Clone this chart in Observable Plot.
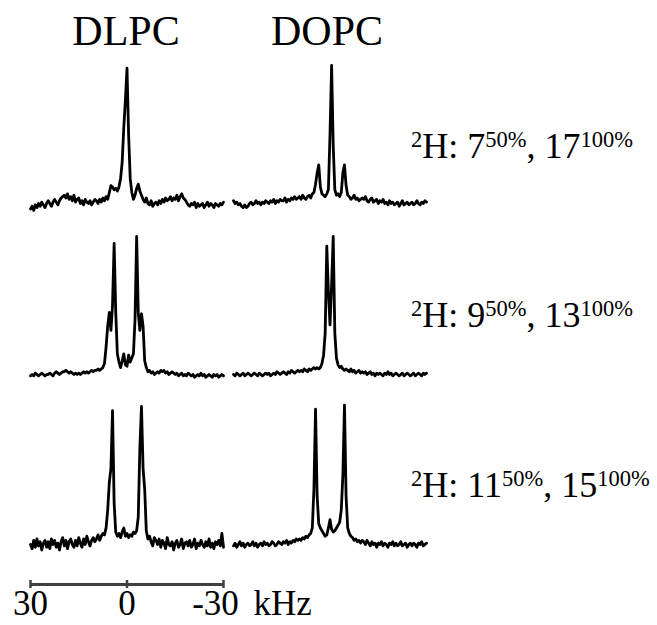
<!DOCTYPE html>
<html><head><meta charset="utf-8">
<script src="https://cdn.jsdelivr.net/npm/d3@7"></script>
<script src="https://cdn.jsdelivr.net/npm/@observablehq/plot@0.6"></script>
<style>
html,body{margin:0;padding:0;background:#fff;}
#chart{position:relative;width:657px;height:625px;overflow:hidden;font-family:"Liberation Serif","Times New Roman",serif;}
#chart svg{position:absolute;overflow:visible;}
</style></head><body><div id="chart"></div>
<script>
// ---- data ----
const lipids = ["DLPC", "DOPC"];
const sites50 = ["7", "9", "11"];
const sites100 = ["17", "13", "15"];
const enrichment = ["50%", "100%"];
const nucleus = "2";
const scaleTicks = [30, 0, -30];
const scaleUnit = "kHz";
// spectra sampled from 30 kHz to -30 kHz every 0.5 kHz, intensity in % of the row's tallest peak
const freqStart = 30, freqStep = 0.5;
const dlpcRow1 = [
-4,-2,-5,-1,-3,0,-2,1,-1,-3,
0,2,0,-2,1,3,1,-1,2,4,
5,6,4,7,3,5,2,6,1,3,
4,0,2,-1,3,1,0,2,-1,1,
3,2,0,3,1,4,2,5,3,8,
13,12,10,11,9,12,18,30,55,75,
98,50,18,8,3,6,11,14,9,6,
3,1,4,0,-1,2,-2,0,1,-1,
2,0,3,1,4,2,3,5,2,4,
3,6,2,5,7,4,3,1,-1,-2,
0,-1,1,-3,0,-2,-1,0,-3,-1,
1,-2,0,-1,-3,0,-1,-2,0,-1,
1];
const dopcRow1 = [
2,0,1,-1,0,-2,-3,-1,-3,-2,
0,1,-1,0,2,0,1,-1,1,0,
2,1,0,2,1,3,0,2,1,3,
2,2,4,1,3,2,4,3,5,3,
4,5,3,6,4,3,5,6,4,7,
8,14,22,28,12,7,6,5,7,10,
50,100,42,10,6,7,5,8,22,28,
13,6,5,3,4,6,3,4,2,3,
4,3,5,2,1,3,4,1,2,3,
0,2,1,3,0,1,-1,2,0,1,
-1,0,1,-2,0,2,-1,0,1,-1,
0,1,-1,0,2,0,-1,1,0,2,
1];
const dlpcRow2 = [
-1,0,-1,1,0,-1,0,1,0,-1,
0,0,1,0,-1,1,2,1,0,1,
2,2,3,2,1,2,1,0,1,0,
1,0,1,2,1,2,1,2,3,2,
3,3,4,3,4,5,8,20,35,45,
32,50,95,45,15,9,5,10,15,7,
6,14,9,12,15,40,100,45,32,44,
35,10,5,2,3,1,2,0,1,2,
1,3,2,3,1,2,0,1,2,1,
0,1,-1,0,1,-1,0,-1,1,0,
-1,0,-2,-1,0,-1,1,-1,0,-2,
-1,0,-1,-2,0,-1,0,-2,-1,0,
-1];
const dopcRow2 = [
0,-1,1,0,-1,0,1,-1,0,1,
0,-1,0,1,0,-1,1,0,-1,0,
1,0,1,-1,0,1,0,2,1,0,
1,2,1,0,2,1,3,2,1,2,
3,2,3,2,4,3,2,4,3,4,
5,4,5,4,5,8,14,30,93,60,
36,65,100,30,12,7,5,6,4,3,
4,3,2,4,2,3,1,2,3,1,
2,1,2,0,1,2,0,1,-1,1,
0,1,0,-1,1,0,2,0,1,-1,
0,1,0,-1,0,1,-1,0,1,0,
-1,0,1,-1,0,1,0,-1,1,0,
1];
const dlpcRow3 = [
0,-3,3,-2,4,-1,2,-4,1,3,
-2,2,-3,4,0,3,-2,1,-4,2,
5,-1,3,-3,2,4,0,-2,3,-1,
5,1,-2,4,0,6,2,-1,3,5,
2,4,7,3,6,8,7,12,25,45,
55,97,30,9,6,8,5,9,12,6,
8,5,7,6,9,8,10,20,70,100,
55,40,10,4,6,2,-1,5,3,0,
4,-2,3,1,-3,5,0,-1,2,-4,
1,3,-2,0,4,-3,1,2,-1,3,
-2,0,4,-3,1,-1,3,0,-2,2,
-1,4,-2,1,-3,2,0,3,-1,8,
-2];
const dopcRow3 = [
-1,1,-2,0,2,-1,1,-2,0,1,
-1,0,2,-1,1,-2,0,1,-1,2,
0,1,-1,0,2,1,-1,0,2,1,
0,2,1,3,0,2,1,3,2,4,
3,4,3,5,4,6,5,7,8,12,
40,98,35,15,12,10,8,6,7,12,
18,11,9,10,12,14,16,25,50,101,
35,12,8,6,5,3,4,2,3,1,
3,2,0,3,1,-1,2,0,1,-2,
1,0,2,-1,1,0,-2,1,0,2,
-1,1,-1,0,2,-1,0,1,-2,0,
1,-1,1,0,-2,1,0,2,-1,0,
1];
const spectra = [[dlpcRow1, dopcRow1], [dlpcRow2, dopcRow2], [dlpcRow3, dopcRow3]];

// ---- layout ----
const chart = document.getElementById("chart");
const FONT = "'Liberation Serif','Times New Roman',serif";
const colLeft = [26, 229];
const rowTop = [53, 224, 394];

function panel(values, left, top) {
  const data = values.map((v, i) => ({khz: freqStart - freqStep * i, v}));
  const svg = Plot.plot({
    width: 201, height: 170, margin: 0, axis: null,
    style: {background: "transparent", overflow: "visible"},
    x: {domain: [scaleTicks[0], scaleTicks[2]], range: [4, 197]},
    y: {domain: [0, 100], range: [150, 12]},
    marks: [Plot.line(data, {x: "khz", y: "v", stroke: "#000", strokeWidth: 2.8, strokeLinejoin: "round", strokeLinecap: "round"})]
  });
  svg.style.left = left + "px"; svg.style.top = top + "px";
  chart.append(svg);
}
spectra.forEach((row, r) => row.forEach((vals, c) => panel(vals, colLeft[c], rowTop[r])));

// scale bar
const bar = Plot.plot({
  width: 340, height: 65, margin: 0, axis: null,
  style: {background: "transparent", overflow: "visible", fontFamily: FONT},
  x: {domain: [scaleTicks[0], scaleTicks[2]], range: [30, 223]},
  y: {domain: [-1, 1], range: [28, 20]},
  marks: [
    Plot.ruleY([0], {x1: scaleTicks[0], x2: scaleTicks[2], stroke: "#404040", strokeWidth: 3}),
    Plot.ruleX(scaleTicks, {y1: -1, y2: 1, stroke: "#404040", strokeWidth: 2.5}),
    Plot.text(scaleTicks.filter(d => d >= 0), {x: d => d, y: -1, dy: 26, text: d => String(d), lineAnchor: "bottom", fontSize: 35, fill: "#000"}),
    Plot.text(scaleTicks.filter(d => d < 0), {x: d => d, y: -1, dy: 26, dx: -8, text: d => String(d), lineAnchor: "bottom", fontSize: 35, fill: "#000"}),
    Plot.text([scaleUnit], {x: scaleTicks[2], y: -1, dy: 26, dx: 30, text: d => d, textAnchor: "start", lineAnchor: "bottom", fontSize: 35, fill: "#000"})
  ]
});
bar.style.left = "0px"; bar.style.top = "560px";
chart.append(bar);

// titles and labels
const over = d3.create("svg").attr("width", 657).attr("height", 625)
  .style("left", "0px").style("top", "0px").style("pointer-events", "none")
  .attr("font-family", FONT).attr("fill", "#000");
const titleX = [126, 327];
lipids.forEach((name, i) => over.append("text").attr("x", titleX[i]).attr("y", 45)
  .attr("text-anchor", "middle").attr("font-size", 42).text(name));
const labelBase = [158, 327, 497];
const big = 36, small = 22.5, rise = 11.5;
sites50.forEach((s, r) => {
  const t = over.append("text").attr("x", 411).attr("y", labelBase[r]);
  t.append("tspan").attr("font-size", small).attr("dy", -rise).text(nucleus);
  t.append("tspan").attr("font-size", big).attr("dy", rise).text("H: " + s);
  t.append("tspan").attr("font-size", small).attr("dy", -rise).text(enrichment[0]);
  t.append("tspan").attr("font-size", big).attr("dy", rise).text(", " + sites100[r]);
  t.append("tspan").attr("font-size", small).attr("dy", -rise).text(enrichment[1]);
});
chart.append(over.node());
</script>
</body></html>
